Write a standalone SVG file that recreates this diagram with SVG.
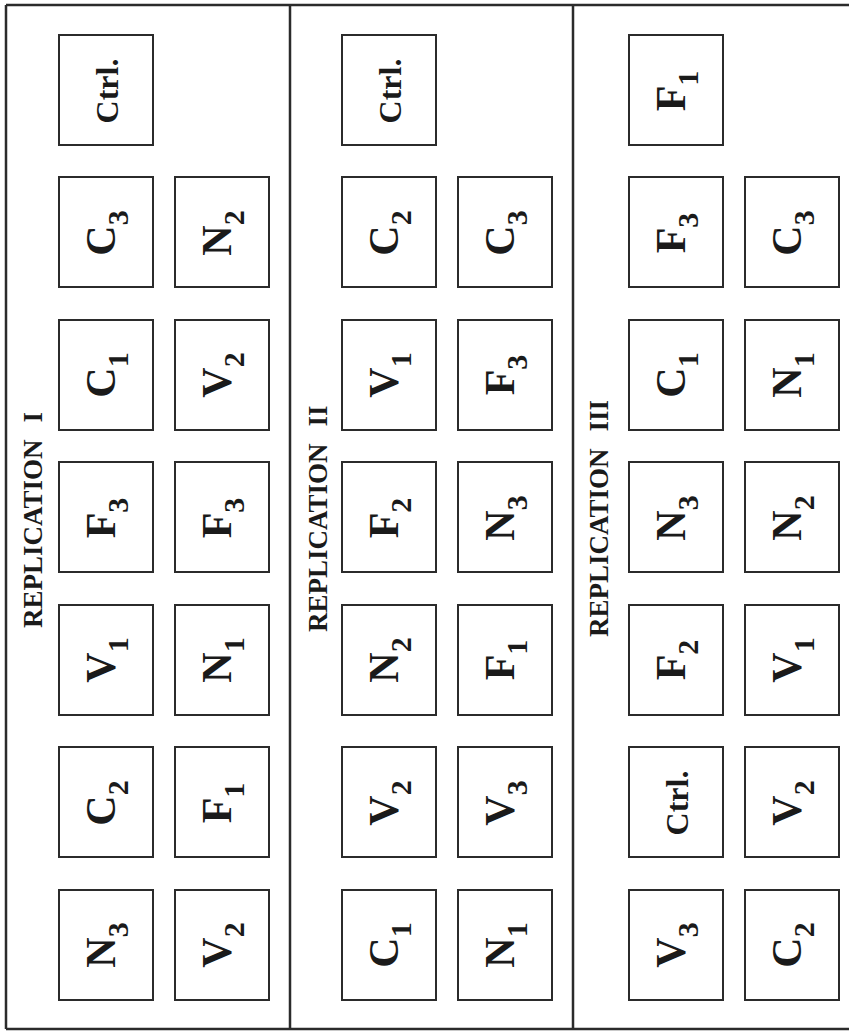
<svg xmlns="http://www.w3.org/2000/svg" width="849" height="1035" viewBox="0 0 849 1035">
<style>
.frame{stroke:#2b2b2b;stroke-width:2.5;fill:none}
.box{fill:#fff;stroke:#2b2b2b;stroke-width:2}
.lbl{font-family:"Liberation Serif","Times New Roman",serif;font-weight:bold;fill:#1a1a1a;font-size:42px;text-anchor:middle}
.sub{font-size:30px}
.ctrl{font-family:"Liberation Serif","Times New Roman",serif;font-weight:bold;fill:#1a1a1a;font-size:32px;text-anchor:middle}
.rep{font-family:"Liberation Serif","Times New Roman",serif;font-weight:bold;fill:#1a1a1a;font-size:27px}
</style>
<rect width="849" height="1035" fill="#fff"/>
<g id="frame">
<line class="frame" x1="6" y1="5" x2="849" y2="5"/>
<line class="frame" x1="6" y1="1029" x2="849" y2="1029"/>
<line class="frame" x1="6" y1="5" x2="6" y2="1029"/>
<line class="frame" x1="290" y1="5" x2="290" y2="1029"/>
<line class="frame" x1="573" y1="5" x2="573" y2="1029"/>
</g>
<g id="labels">
<text class="rep" transform="translate(42,628) rotate(-90)">REPLICATION<tspan dx="17">I</tspan></text>
<text class="rep" transform="translate(327,632) rotate(-90)">REPLICATION<tspan dx="17">II</tspan></text>
<text class="rep" transform="translate(608,637) rotate(-90)">REPLICATION<tspan dx="17">III</tspan></text>
</g>
<g id="rep1">
<g id="r1-0L"><rect class="box" x="59" y="35" width="94" height="110"/><text class="ctrl" transform="translate(118,91) rotate(-90)">Ctrl.</text></g>
<g id="r1-1L"><rect class="box" x="59" y="177" width="94" height="110"/><text class="lbl" transform="translate(115,233) rotate(-90)">C<tspan class="sub" dy="13">3</tspan></text></g>
<g id="r1-1R"><rect class="box" x="175" y="177" width="94" height="110"/><text class="lbl" transform="translate(231,233) rotate(-90)">N<tspan class="sub" dy="13">2</tspan></text></g>
<g id="r1-2L"><rect class="box" x="59" y="320" width="94" height="110"/><text class="lbl" transform="translate(115,375) rotate(-90)">C<tspan class="sub" dy="13">1</tspan></text></g>
<g id="r1-2R"><rect class="box" x="175" y="320" width="94" height="110"/><text class="lbl" transform="translate(231,375) rotate(-90)">V<tspan class="sub" dy="13">2</tspan></text></g>
<g id="r1-3L"><rect class="box" x="59" y="462" width="94" height="110"/><text class="lbl" transform="translate(115,518) rotate(-90)">F<tspan class="sub" dy="13">3</tspan></text></g>
<g id="r1-3R"><rect class="box" x="175" y="462" width="94" height="110"/><text class="lbl" transform="translate(231,518) rotate(-90)">F<tspan class="sub" dy="13">3</tspan></text></g>
<g id="r1-4L"><rect class="box" x="59" y="605" width="94" height="110"/><text class="lbl" transform="translate(115,660) rotate(-90)">V<tspan class="sub" dy="13">1</tspan></text></g>
<g id="r1-4R"><rect class="box" x="175" y="605" width="94" height="110"/><text class="lbl" transform="translate(231,660) rotate(-90)">N<tspan class="sub" dy="13">1</tspan></text></g>
<g id="r1-5L"><rect class="box" x="59" y="747" width="94" height="110"/><text class="lbl" transform="translate(115,803) rotate(-90)">C<tspan class="sub" dy="13">2</tspan></text></g>
<g id="r1-5R"><rect class="box" x="175" y="747" width="94" height="110"/><text class="lbl" transform="translate(231,803) rotate(-90)">F<tspan class="sub" dy="13">1</tspan></text></g>
<g id="r1-6L"><rect class="box" x="59" y="890" width="94" height="110"/><text class="lbl" transform="translate(115,945) rotate(-90)">N<tspan class="sub" dy="13">3</tspan></text></g>
<g id="r1-6R"><rect class="box" x="175" y="890" width="94" height="110"/><text class="lbl" transform="translate(231,945) rotate(-90)">V<tspan class="sub" dy="13">2</tspan></text></g>
</g>
<g id="rep2">
<g id="r2-0L"><rect class="box" x="342" y="35" width="94" height="110"/><text class="ctrl" transform="translate(401,91) rotate(-90)">Ctrl.</text></g>
<g id="r2-1L"><rect class="box" x="342" y="177" width="94" height="110"/><text class="lbl" transform="translate(398,233) rotate(-90)">C<tspan class="sub" dy="13">2</tspan></text></g>
<g id="r2-1R"><rect class="box" x="458" y="177" width="94" height="110"/><text class="lbl" transform="translate(514,233) rotate(-90)">C<tspan class="sub" dy="13">3</tspan></text></g>
<g id="r2-2L"><rect class="box" x="342" y="320" width="94" height="110"/><text class="lbl" transform="translate(398,375) rotate(-90)">V<tspan class="sub" dy="13">1</tspan></text></g>
<g id="r2-2R"><rect class="box" x="458" y="320" width="94" height="110"/><text class="lbl" transform="translate(514,375) rotate(-90)">F<tspan class="sub" dy="13">3</tspan></text></g>
<g id="r2-3L"><rect class="box" x="342" y="462" width="94" height="110"/><text class="lbl" transform="translate(398,518) rotate(-90)">F<tspan class="sub" dy="13">2</tspan></text></g>
<g id="r2-3R"><rect class="box" x="458" y="462" width="94" height="110"/><text class="lbl" transform="translate(514,518) rotate(-90)">N<tspan class="sub" dy="13">3</tspan></text></g>
<g id="r2-4L"><rect class="box" x="342" y="605" width="94" height="110"/><text class="lbl" transform="translate(398,660) rotate(-90)">N<tspan class="sub" dy="13">2</tspan></text></g>
<g id="r2-4R"><rect class="box" x="458" y="605" width="94" height="110"/><text class="lbl" transform="translate(514,660) rotate(-90)">F<tspan class="sub" dy="13">1</tspan></text></g>
<g id="r2-5L"><rect class="box" x="342" y="747" width="94" height="110"/><text class="lbl" transform="translate(398,803) rotate(-90)">V<tspan class="sub" dy="13">2</tspan></text></g>
<g id="r2-5R"><rect class="box" x="458" y="747" width="94" height="110"/><text class="lbl" transform="translate(514,803) rotate(-90)">V<tspan class="sub" dy="13">3</tspan></text></g>
<g id="r2-6L"><rect class="box" x="342" y="890" width="94" height="110"/><text class="lbl" transform="translate(398,945) rotate(-90)">C<tspan class="sub" dy="13">1</tspan></text></g>
<g id="r2-6R"><rect class="box" x="458" y="890" width="94" height="110"/><text class="lbl" transform="translate(514,945) rotate(-90)">N<tspan class="sub" dy="13">1</tspan></text></g>
</g>
<g id="rep3">
<g id="r3-0L"><rect class="box" x="629" y="35" width="94" height="110"/><text class="lbl" transform="translate(685,91) rotate(-90)">F<tspan class="sub" dy="13">1</tspan></text></g>
<g id="r3-1L"><rect class="box" x="629" y="177" width="94" height="110"/><text class="lbl" transform="translate(685,233) rotate(-90)">F<tspan class="sub" dy="13">3</tspan></text></g>
<g id="r3-1R"><rect class="box" x="745" y="177" width="94" height="110"/><text class="lbl" transform="translate(801,233) rotate(-90)">C<tspan class="sub" dy="13">3</tspan></text></g>
<g id="r3-2L"><rect class="box" x="629" y="320" width="94" height="110"/><text class="lbl" transform="translate(685,375) rotate(-90)">C<tspan class="sub" dy="13">1</tspan></text></g>
<g id="r3-2R"><rect class="box" x="745" y="320" width="94" height="110"/><text class="lbl" transform="translate(801,375) rotate(-90)">N<tspan class="sub" dy="13">1</tspan></text></g>
<g id="r3-3L"><rect class="box" x="629" y="462" width="94" height="110"/><text class="lbl" transform="translate(685,518) rotate(-90)">N<tspan class="sub" dy="13">3</tspan></text></g>
<g id="r3-3R"><rect class="box" x="745" y="462" width="94" height="110"/><text class="lbl" transform="translate(801,518) rotate(-90)">N<tspan class="sub" dy="13">2</tspan></text></g>
<g id="r3-4L"><rect class="box" x="629" y="605" width="94" height="110"/><text class="lbl" transform="translate(685,660) rotate(-90)">F<tspan class="sub" dy="13">2</tspan></text></g>
<g id="r3-4R"><rect class="box" x="745" y="605" width="94" height="110"/><text class="lbl" transform="translate(801,660) rotate(-90)">V<tspan class="sub" dy="13">1</tspan></text></g>
<g id="r3-5L"><rect class="box" x="629" y="747" width="94" height="110"/><text class="ctrl" transform="translate(688,803) rotate(-90)">Ctrl.</text></g>
<g id="r3-5R"><rect class="box" x="745" y="747" width="94" height="110"/><text class="lbl" transform="translate(801,803) rotate(-90)">V<tspan class="sub" dy="13">2</tspan></text></g>
<g id="r3-6L"><rect class="box" x="629" y="890" width="94" height="110"/><text class="lbl" transform="translate(685,945) rotate(-90)">V<tspan class="sub" dy="13">3</tspan></text></g>
<g id="r3-6R"><rect class="box" x="745" y="890" width="94" height="110"/><text class="lbl" transform="translate(801,945) rotate(-90)">C<tspan class="sub" dy="13">2</tspan></text></g>
</g>
<g id="connectors"></g>
</svg>
